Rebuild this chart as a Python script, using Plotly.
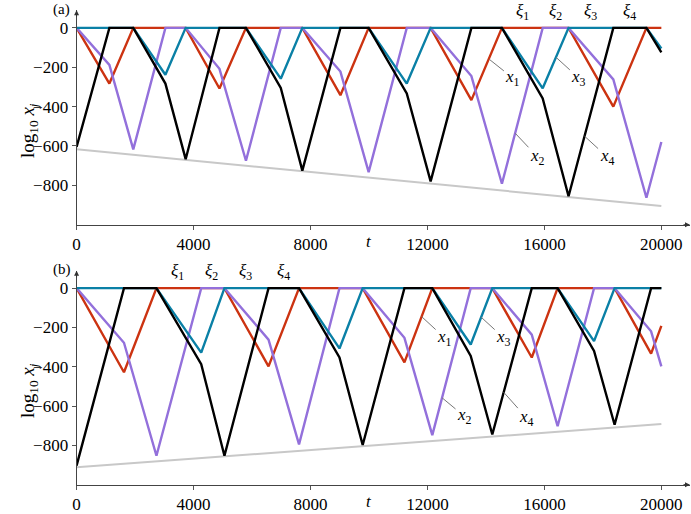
import plotly.graph_objects as go

# ---------------- data: panel (a) ----------------
a_x1_t = [0, 1122, 1939, 3731, 4887, 5793, 7721, 9024, 9989, 12109, 13503, 14547, 16826, 18357, 19490, 20000]
a_x1_y = [0, -283, 0, 0, -308, 0, 0, -342, 0, 0, -367, 0, 0, -400, 0, 0]
a_x2_t = [0, 1122, 1939, 3038, 3731, 4887, 5793, 6984, 7721, 9024, 9989, 11293, 12109, 13503, 14547, 15942, 16826, 18357, 19490, 20000]
a_x2_y = [0, -188, -617, 0, 0, -208, -675, 0, 0, -222, -733, 0, 0, -245, -792, 0, 0, -262, -863, -580]
a_x3_t = [0, 1939, 3038, 3731, 5793, 6984, 7721, 9989, 11293, 12109, 14547, 15942, 16826, 19490, 20000]
a_x3_y = [0, 0, -238, 0, 0, -258, 0, 0, -283, 0, 0, -307, 0, 0, -105]
a_x4_t = [0, 1122, 1939, 3038, 3731, 4887, 5793, 6984, 7721, 9024, 9989, 11293, 12109, 13503, 14547, 15942, 16826, 18357, 19490, 20000]
a_x4_y = [-605, 0, 0, -283, -667, 0, 0, -305, -725, 0, 0, -333, -780, 0, 0, -358, -855, 0, 0, -125]
a_env_t = [0, 20000]
a_env_y = [-617, -905]
a_xi_t = [15238, 16371, 17585, 18922]
a_lab_pt = [(14118, -160), (15000, -535), (16400, -150), (17372, -550)]
a_lab_txt = [(14922, -255), (15764, -655), (17178, -255), (18144, -655)]

# ---------------- data: panel (b) ----------------
b_x1_t = [0, 1621, 2732, 5057, 6565, 7608, 9785, 11213, 12166, 14218, 15568, 16452, 18401, 19649, 20000]
b_x1_y = [0, -428, 0, 0, -398, 0, 0, -378, 0, 0, -353, 0, 0, -333, -192]
b_x2_t = [0, 1621, 2732, 4263, 5057, 6565, 7608, 8991, 9785, 11213, 12166, 13480, 14218, 15568, 16452, 17698, 18401, 19649, 20000]
b_x2_y = [0, -278, -853, 0, 0, -262, -795, 0, 0, -253, -748, 0, 0, -237, -703, 0, 0, -220, -398]
b_x3_t = [0, 2732, 4263, 5057, 7608, 8991, 9785, 12166, 13480, 14218, 16452, 17698, 18401, 20000]
b_x3_y = [0, 0, -328, 0, 0, -307, 0, 0, -287, 0, 0, -270, 0, 0]
b_x4_t = [0, 1621, 2732, 4263, 5057, 6565, 7608, 8991, 9785, 11213, 12166, 13480, 14218, 15568, 16452, 17698, 18401, 19649, 20000]
b_x4_y = [-903, 0, 0, -387, -853, 0, 0, -353, -798, 0, 0, -345, -745, 0, 0, -320, -695, 0, 0]
b_env_t = [0, 20000]
b_env_y = [-912, -692]
b_xi_t = [3435, 4602, 5772, 7064]
b_lab_pt = [(11800, -145), (12500, -558), (13837, -148), (14608, -530)]
b_lab_txt = [(12589, -253), (13269, -653), (14608, -253), (15400, -662)]

x_ticks = [0, 4000, 8000, 12000, 16000, 20000]
y_ticks = [0, -200, -400, -600, -800]

RED = "#cc3311"
PURPLE = "#9370db"
BLUE = "#0a80a6"
BLACK = "#000000"
GRAY = "#c8c8c8"
FONT = "Liberation Serif, Times New Roman, DejaVu Serif, serif"
FS = 17

fig = go.Figure()

panels = [
    ("x", "y", a_env_t, a_env_y, [(a_x1_t, a_x1_y, RED), (a_x2_t, a_x2_y, PURPLE), (a_x3_t, a_x3_y, BLUE), (a_x4_t, a_x4_y, BLACK)], a_xi_t, a_lab_pt, a_lab_txt, "(a)"),
    ("x2", "y2", b_env_t, b_env_y, [(b_x1_t, b_x1_y, RED), (b_x2_t, b_x2_y, PURPLE), (b_x3_t, b_x3_y, BLUE), (b_x4_t, b_x4_y, BLACK)], b_xi_t, b_lab_pt, b_lab_txt, "(b)"),
]

XMAX = 20980
YTOP = [90, 88]
annotations = []
for i, (xa, ya, et, ey, series, xi_t, lpt, ltxt, tag) in enumerate(panels):
    fig.add_trace(go.Scatter(x=et, y=ey, mode="lines", line=dict(color=GRAY, width=2),
                             xaxis=xa, yaxis=ya, showlegend=False, hoverinfo="skip"))
    for (tt, yy, col) in series:
        fig.add_trace(go.Scatter(x=tt, y=yy, mode="lines", line=dict(color=col, width=2.4),
                                 xaxis=xa, yaxis=ya, showlegend=False))
    xr = "x" if xa == "x" else "x2"
    yr = "y" if ya == "y" else "y2"
    # axis arrowheads
    annotations.append(dict(x=XMAX, y=-1000, ax=-8, ay=0, xref=xr, yref=yr,
                            showarrow=True, arrowhead=2, arrowsize=1, arrowwidth=1, arrowcolor="#333", text=""))
    annotations.append(dict(x=0, y=YTOP[i], ax=0, ay=8, xref=xr, yref=yr,
                            showarrow=True, arrowhead=2, arrowsize=1, arrowwidth=1, arrowcolor="#333", text=""))
    # xi labels
    for k, t in enumerate(xi_t):
        annotations.append(dict(x=t, y=0, xref=xr, yref=yr, yshift=16, showarrow=False,
                                text=f"<i>ξ</i><sub>{k+1}</sub>", font=dict(family=FONT, size=FS, color="black")))
    # curve labels with leader lines
    for k, ((px, py), (tx, ty)) in enumerate(zip(lpt, ltxt)):
        annotations.append(dict(x=px, y=py, ax=tx, ay=ty, xref=xr, yref=yr, axref=xr, ayref=yr,
                                showarrow=True, arrowhead=0, arrowwidth=1, arrowcolor="#777",
                                text=f"<i>x</i><sub>{k+1}</sub>", font=dict(family=FONT, size=FS, color="black")))
    # t label
    annotations.append(dict(x=10000, y=-1000, xref=xr, yref=yr, yshift=-17, showarrow=False,
                            text="<i>t</i>", font=dict(family=FONT, size=FS, color="black")))
    # y label
    annotations.append(dict(x=0.017, xref="paper", y=-520, yref=yr, showarrow=False, textangle=-90,
                            text="log<sub>10</sub> <i>x<sub>j</sub></i>", font=dict(family=FONT, size=FS + 2, color="black")))
    # panel tag
    annotations.append(dict(x=0.068, xref="paper", y=YTOP[i], yref=yr, yshift=1, showarrow=False,
                            text=tag, font=dict(family=FONT, size=FS - 2, color="black")))

xcommon = dict(range=[0, XMAX], tickvals=x_ticks, ticktext=[str(v) for v in x_ticks],
               ticks="outside", ticklen=4, tickcolor="#555", showline=True, linecolor="#444", linewidth=1,
               showgrid=False, zeroline=False, tickfont=dict(family=FONT, size=FS, color="black"))
ycommon = dict(tickvals=y_ticks, ticktext=["0" if v == 0 else "\u2212" + str(-v) for v in y_ticks],
               ticks="outside", ticklen=4, tickcolor="#555", showline=True, linecolor="#444", linewidth=1,
               showgrid=False, zeroline=False, tickfont=dict(family=FONT, size=FS, color="black"))

xd = [73 / 691, 690 / 691]
fig.update_layout(
    width=691, height=514,
    margin=dict(l=0, r=0, t=0, b=0),
    paper_bgcolor="white", plot_bgcolor="white",
    xaxis=dict(domain=xd, anchor="y", **xcommon),
    yaxis=dict(domain=[1 - 228.3 / 514, 1 - 10.3 / 514], range=[-1000, YTOP[0]], anchor="x", **ycommon),
    xaxis2=dict(domain=xd, anchor="y2", **xcommon),
    yaxis2=dict(domain=[1 - 492.3 / 514, 1 - 275.1 / 514], range=[-1000, YTOP[1]], anchor="x2", **ycommon),
    annotations=annotations,
    showlegend=False,
)

fig.write_html("out.html")
